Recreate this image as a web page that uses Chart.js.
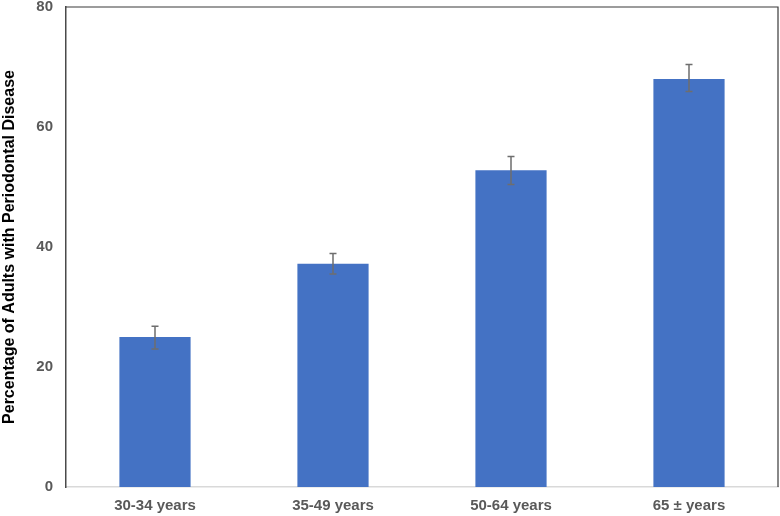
<!DOCTYPE html>
<html>
<head>
<meta charset="utf-8">
<script src="https://cdn.jsdelivr.net/npm/chart.js@4"></script>
<style>
html,body{margin:0;padding:0;background:#fff;}
#wrap{width:780px;height:516px;position:relative;}
</style>
</head>
<body>
<div id="wrap"><canvas id="c" width="780" height="516"></canvas></div>
<script>
const categories = ["30-34 years", "35-49 years", "50-64 years", "65 ± years"];
const values = [25.0, 37.2, 52.8, 68.0];
const errLow = [23.0, 35.5, 50.4, 65.9];
const errHigh = [26.8, 38.9, 55.1, 70.4];
const yTicks = [0, 20, 40, 60, 80];

const errorBars = {
  id: 'errorBars',
  afterDatasetsDraw(chart) {
    const ctx = chart.ctx;
    const meta = chart.getDatasetMeta(0);
    const y = chart.scales.y;
    ctx.save();
    ctx.strokeStyle = '#6e6e6e';
    ctx.lineWidth = 1.5;
    meta.data.forEach((bar, i) => {
      const x = bar.x;
      const yl = y.getPixelForValue(errLow[i]);
      const yh = y.getPixelForValue(errHigh[i]);
      ctx.beginPath();
      ctx.moveTo(x, yl); ctx.lineTo(x, yh);
      ctx.moveTo(x - 3.5, yh); ctx.lineTo(x + 3.5, yh);
      ctx.moveTo(x - 3.5, yl); ctx.lineTo(x + 3.5, yl);
      ctx.stroke();
    });
    ctx.restore();
  }
};

const frame = {
  id: 'frame',
  afterDraw(chart) {
    const a = chart.chartArea;
    const ctx = chart.ctx;
    ctx.save();
    ctx.strokeStyle = '#3a3a3a';
    ctx.lineWidth = 1.2;
    ctx.beginPath();
    ctx.moveTo(a.left, a.top);
    ctx.lineTo(a.right, a.top);
    ctx.lineTo(a.right, a.bottom);
    ctx.stroke();
    ctx.restore();
  }
};

new Chart(document.getElementById('c'), {
  type: 'bar',
  data: {
    labels: categories,
    datasets: [{
      data: values,
      backgroundColor: '#4472c4',
      borderWidth: 0,
      categoryPercentage: 1.0,
      barPercentage: 0.4
    }]
  },
  options: {
    responsive: false,
    animation: false,
    devicePixelRatio: 1,
    layout: { padding: { top: 7, right: 2, left: 0, bottom: 0 } },
    plugins: { legend: { display: false }, tooltip: { enabled: false } },
    scales: {
      x: {
        grid: { display: false, drawTicks: false },
        border: { display: true, color: '#d9d9d9', width: 1.5 },
        ticks: {
          color: '#595959',
          font: { family: 'Liberation Sans', size: 15, weight: 'bold' },
          padding: 10,
          maxRotation: 0
        },
        afterFit(s) { s.height = 29; s.paddingLeft = 0; s.paddingRight = 0; }
      },
      y: {
        min: 0, max: 80,
        afterBuildTicks(s) { s.ticks = yTicks.map(v => ({ value: v })); },
        grid: { display: false, drawTicks: false },
        border: { display: true, color: '#4a4a4a', width: 1.5 },
        ticks: {
          color: '#595959',
          font: { family: 'Liberation Sans', size: 15, weight: 'bold' },
          padding: 13
        },
        title: {
          display: true,
          text: 'Percentage of Adults with Periodontal Disease',
          color: '#000000',
          font: { family: 'Liberation Sans', size: 16, weight: 'bold' },
          padding: { top: 0, bottom: 0 }
        },
        afterFit(s) { s.width = 66; s.paddingTop = 0; s.paddingBottom = 0; }
      }
    }
  },
  plugins: [errorBars, frame]
});
</script>
</body>
</html>
